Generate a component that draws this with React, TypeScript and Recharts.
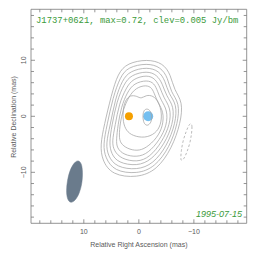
import { ScatterChart, Scatter, XAxis, YAxis } from 'recharts'

const TITLE = 'J1737+0621, max=0.72, clev=0.005 Jy/bm'
const DATE = '1995-07-15'
const X_LABEL = 'Relative Right Ascension (mas)'
const Y_LABEL = 'Relative Declination (mas)'

const RA_DOMAIN = [-19.6, 19.6]
const DEC_DOMAIN = [-19.1, 19.1]
const TICKS = [-18, -16, -14, -12, -10, -8, -6, -4, -2, 0, 2, 4, 6, 8, 10, 12, 14, 16, 18]

// positive contours, outermost first: [RA mas, Dec mas]
const C1 = [[2.1, 9.5], [-1.5, 10.2], [-4.4, 9.5], [-5.8, 7.4], [-6.4, 4.7], [-8.0, 2.6], [-7.6, -1.2], [-6.0, -5.7], [-3.3, -9.6], [0.3, -11.0], [4.9, -10.5], [6.7, -7.8], [7.0, -5.1], [6.3, -1.6], [5.0, 3.8], [3.8, 7.7]]
const C2 = [[2.0, 8.8], [-1.5, 9.5], [-4.0, 8.8], [-5.3, 6.8], [-5.8, 4.3], [-7.4, 2.4], [-7.1, -1.2], [-5.6, -5.5], [-2.9, -9.1], [0.3, -10.3], [4.5, -9.8], [6.1, -7.4], [6.5, -5.1], [5.8, -1.6], [4.7, 3.4], [3.4, 7.0]]
const C3 = [[1.6, 8.1], [-1.5, 8.8], [-3.7, 8.1], [-4.8, 6.3], [-5.4, 4.0], [-6.9, 2.2], [-6.7, -1.2], [-5.1, -5.3], [-2.6, -8.5], [0.3, -9.6], [4.1, -9.1], [5.6, -7.1], [6.0, -4.9], [5.2, -1.6], [4.3, 3.1], [3.0, 6.5]]
const C4 = [[1.4, 7.4], [-1.5, 8.1], [-3.3, 7.4], [-4.3, 5.8], [-5.0, 3.6], [-6.4, 1.8], [-6.2, -1.4], [-4.7, -4.9], [-2.3, -7.8], [0.3, -8.9], [3.8, -8.3], [5.0, -6.7], [5.4, -4.8], [4.9, -1.6], [4.0, 2.7], [2.7, 5.8]]
const C5 = [[1.1, 6.7], [-1.5, 7.4], [-3.0, 6.7], [-3.9, 5.1], [-4.5, 3.3], [-5.8, 1.5], [-5.7, -1.4], [-4.2, -4.6], [-2.0, -7.3], [0.3, -8.2], [3.2, -7.6], [4.5, -6.2], [4.9, -4.6], [4.3, -1.6], [3.6, 2.2], [2.3, 5.1]]
const C6 = [[0.9, 5.9], [-1.5, 6.5], [-2.8, 5.9], [-3.4, 4.5], [-4.0, 2.9], [-5.2, 1.1], [-5.1, -1.6], [-3.8, -4.2], [-1.7, -6.6], [0.3, -7.3], [2.7, -6.9], [4.0, -5.7], [4.1, -4.2], [3.8, -1.6], [3.2, 1.7], [2.1, 4.3]]
const C7 = [[0.5, 5.1], [-1.3, 5.6], [-2.4, 5.1], [-2.9, 3.8], [-3.5, 2.4], [-4.5, 0.8], [-4.4, -1.7], [-3.3, -3.9], [-1.3, -5.7], [0.3, -6.2], [2.1, -5.8], [3.4, -4.8], [3.6, -3.5], [3.4, -1.2], [2.9, 1.1], [1.8, 3.6]]
const C8 = [[1.6, 3.8], [0.3, 3.6], [-0.4, 3.1], [-1.3, 3.8], [-2.6, 3.7], [-3.6, 2.6], [-4.2, 0.6], [-4.0, -1.6], [-3.0, -3.1], [-1.1, -3.9], [1.1, -3.5], [2.3, -2.6], [2.9, -1.0], [2.9, 1.1], [2.5, 2.8]]
const C9 = [[-1.5, 1.4], [-2.1, 1.0], [-2.4, 0.1], [-2.3, -0.9], [-1.9, -1.5], [-1.3, -1.7], [-0.8, -1.0], [-0.7, 0.2], [-0.9, 1.1]]
const CONTOURS = [C1, C2, C3, C4, C5, C6, C7, C8, C9]

// negative contour (dashed)
const NEG = [[-9.5, -1.2], [-9.7, -1.7], [-9.6, -3.0], [-9.3, -4.8], [-8.7, -6.5], [-8.2, -7.6], [-7.7, -8.0], [-7.6, -7.5], [-7.7, -6.2], [-8.0, -4.4], [-8.6, -2.7], [-9.1, -1.5]]

// restoring beam
const BEAM = [[11.0, -7.8], [10.4, -8.4], [10.2, -9.9], [10.3, -11.9], [10.8, -13.8], [11.6, -15.1], [12.4, -15.5], [13.0, -14.9], [13.2, -13.3], [13.0, -11.4], [12.5, -9.5], [11.7, -8.2]]

// model components
const CORE = [{ x: -1.7, y: 0 }]
const JET = [{ x: 1.8, y: 0 }]

const FRAME = '#7a7a7a'
const TEXT = '#5a5a5a'
const CONTOUR = '#a4a4a4'
const GREEN = '#3a9a3a'
const FONT = '"Liberation Sans", Arial, sans-serif'

const pts = (a: number[][]) => a.map(([x, y]) => ({ x, y }))
const fmt = (v: number) => (v < 0 ? `\u2212${-v}` : `${v}`)
const NoDot = () => <g />

const BottomTick = (p: any) => {
  const v = p.payload.value
  const major = v % 10 === 0
  return (
    <g>
      <line x1={p.x} x2={p.x} y1={p.y} y2={p.y - (major ? 4 : 3)} stroke={FRAME} strokeWidth={0.8} />
      {major && (
        <text x={p.x} y={p.y + 11} textAnchor="middle" fontSize={7} fill={TEXT} fontFamily={FONT}>
          {fmt(v)}
        </text>
      )}
    </g>
  )
}

const TopTick = (p: any) => {
  const major = p.payload.value % 10 === 0
  return <line x1={p.x} x2={p.x} y1={p.y} y2={p.y + (major ? 4 : 3)} stroke={FRAME} strokeWidth={0.8} />
}

const LeftTick = (p: any) => {
  const v = p.payload.value
  const major = v % 10 === 0
  return (
    <g>
      <line x1={p.x} x2={p.x + (major ? 4 : 3)} y1={p.y} y2={p.y} stroke={FRAME} strokeWidth={0.8} />
      {major && (
        <text
          x={0}
          y={0}
          transform={`translate(${p.x - 5},${p.y}) rotate(-90)`}
          textAnchor="middle"
          fontSize={7}
          fill={TEXT}
          fontFamily={FONT}
        >
          {fmt(v)}
        </text>
      )}
    </g>
  )
}

const RightTick = (p: any) => {
  const major = p.payload.value % 10 === 0
  return <line x1={p.x} x2={p.x - (major ? 4 : 3)} y1={p.y} y2={p.y} stroke={FRAME} strokeWidth={0.8} />
}

export default function App() {
  return (
    <div style={{ position: 'absolute', left: 0, top: 0, width: 264, height: 262, background: '#fff' }}>
      <ScatterChart width={264} height={262} margin={{ top: 8.3, right: 16.3, bottom: 0, left: 0 }}>
        <XAxis
          xAxisId="b"
          type="number"
          dataKey="x"
          orientation="bottom"
          domain={RA_DOMAIN}
          allowDataOverflow
          reversed
          ticks={TICKS}
          interval={0}
          height={38.7}
          tickSize={0}
          tickMargin={0}
          tickLine={false}
          tick={BottomTick}
          axisLine={{ stroke: FRAME, strokeWidth: 0.8 }}
          label={{ value: X_LABEL, position: 'insideBottom', offset: 15, fontSize: 7, fill: TEXT, fontFamily: FONT }}
        />
        <XAxis
          xAxisId="t"
          type="number"
          dataKey="x"
          orientation="top"
          domain={RA_DOMAIN}
          allowDataOverflow
          reversed
          ticks={TICKS}
          interval={0}
          height={1}
          tickSize={0}
          tickMargin={0}
          tickLine={false}
          tick={TopTick}
          axisLine={{ stroke: FRAME, strokeWidth: 0.8 }}
        />
        <YAxis
          yAxisId="l"
          type="number"
          dataKey="y"
          orientation="left"
          domain={DEC_DOMAIN}
          allowDataOverflow
          ticks={TICKS}
          interval={0}
          width={31}
          tickSize={0}
          tickMargin={0}
          tickLine={false}
          tick={LeftTick}
          axisLine={{ stroke: FRAME, strokeWidth: 0.8 }}
        />
        <YAxis
          yAxisId="r"
          type="number"
          dataKey="y"
          orientation="right"
          domain={DEC_DOMAIN}
          allowDataOverflow
          ticks={TICKS}
          interval={0}
          width={1}
          tickSize={0}
          tickMargin={0}
          tickLine={false}
          tick={RightTick}
          axisLine={{ stroke: FRAME, strokeWidth: 0.8 }}
        />

        <Scatter
          xAxisId="t"
          yAxisId="r"
          data={pts(BEAM)}
          fill="#6a7b8c"
          shape={NoDot}
          line={{ fill: '#6a7b8c', stroke: '#6a7b8c', strokeWidth: 0.5 }}
          lineJointType="basisClosed"
          isAnimationActive={false}
        />
        <Scatter
          xAxisId="t"
          yAxisId="r"
          data={pts(NEG)}
          fill={CONTOUR}
          shape={NoDot}
          line={{ stroke: CONTOUR, strokeWidth: 0.75, strokeDasharray: '2.5 2' }}
          lineJointType="basisClosed"
          isAnimationActive={false}
        />
        <Scatter
          xAxisId="b"
          yAxisId="l"
          data={JET}
          fill="#f5a000"
          shape={(p: any) => <circle cx={p.cx} cy={p.cy} r={4} fill="#f5a000" />}
          isAnimationActive={false}
        />
        <Scatter
          xAxisId="b"
          yAxisId="l"
          data={CORE}
          fill="#74bff0"
          shape={(p: any) => <circle cx={p.cx} cy={p.cy} r={5} fill="#74bff0" />}
          isAnimationActive={false}
        />
        {CONTOURS.map((c, i) => (
          <Scatter
            key={`c-${i}`}
            xAxisId="b"
            yAxisId="l"
            data={pts(c)}
            fill={CONTOUR}
            shape={NoDot}
            line={{ stroke: CONTOUR, strokeWidth: 0.75 }}
            lineJointType="basisClosed"
            isAnimationActive={false}
          />
        ))}

        <text x={36} y={22.5} fontSize={8.9} fill={GREEN} fontFamily='"Liberation Mono", monospace'>
          {TITLE}
        </text>
        <text x={242} y={216.7} textAnchor="end" fontSize={9} fontStyle="italic" fill={GREEN} fontFamily={FONT}>
          {DATE}
        </text>
        <text
          x={0}
          y={0}
          transform="translate(16,117) rotate(-90)"
          textAnchor="middle"
          fontSize={7}
          fill={TEXT}
          fontFamily={FONT}
        >
          {Y_LABEL}
        </text>
      </ScatterChart>
    </div>
  )
}
